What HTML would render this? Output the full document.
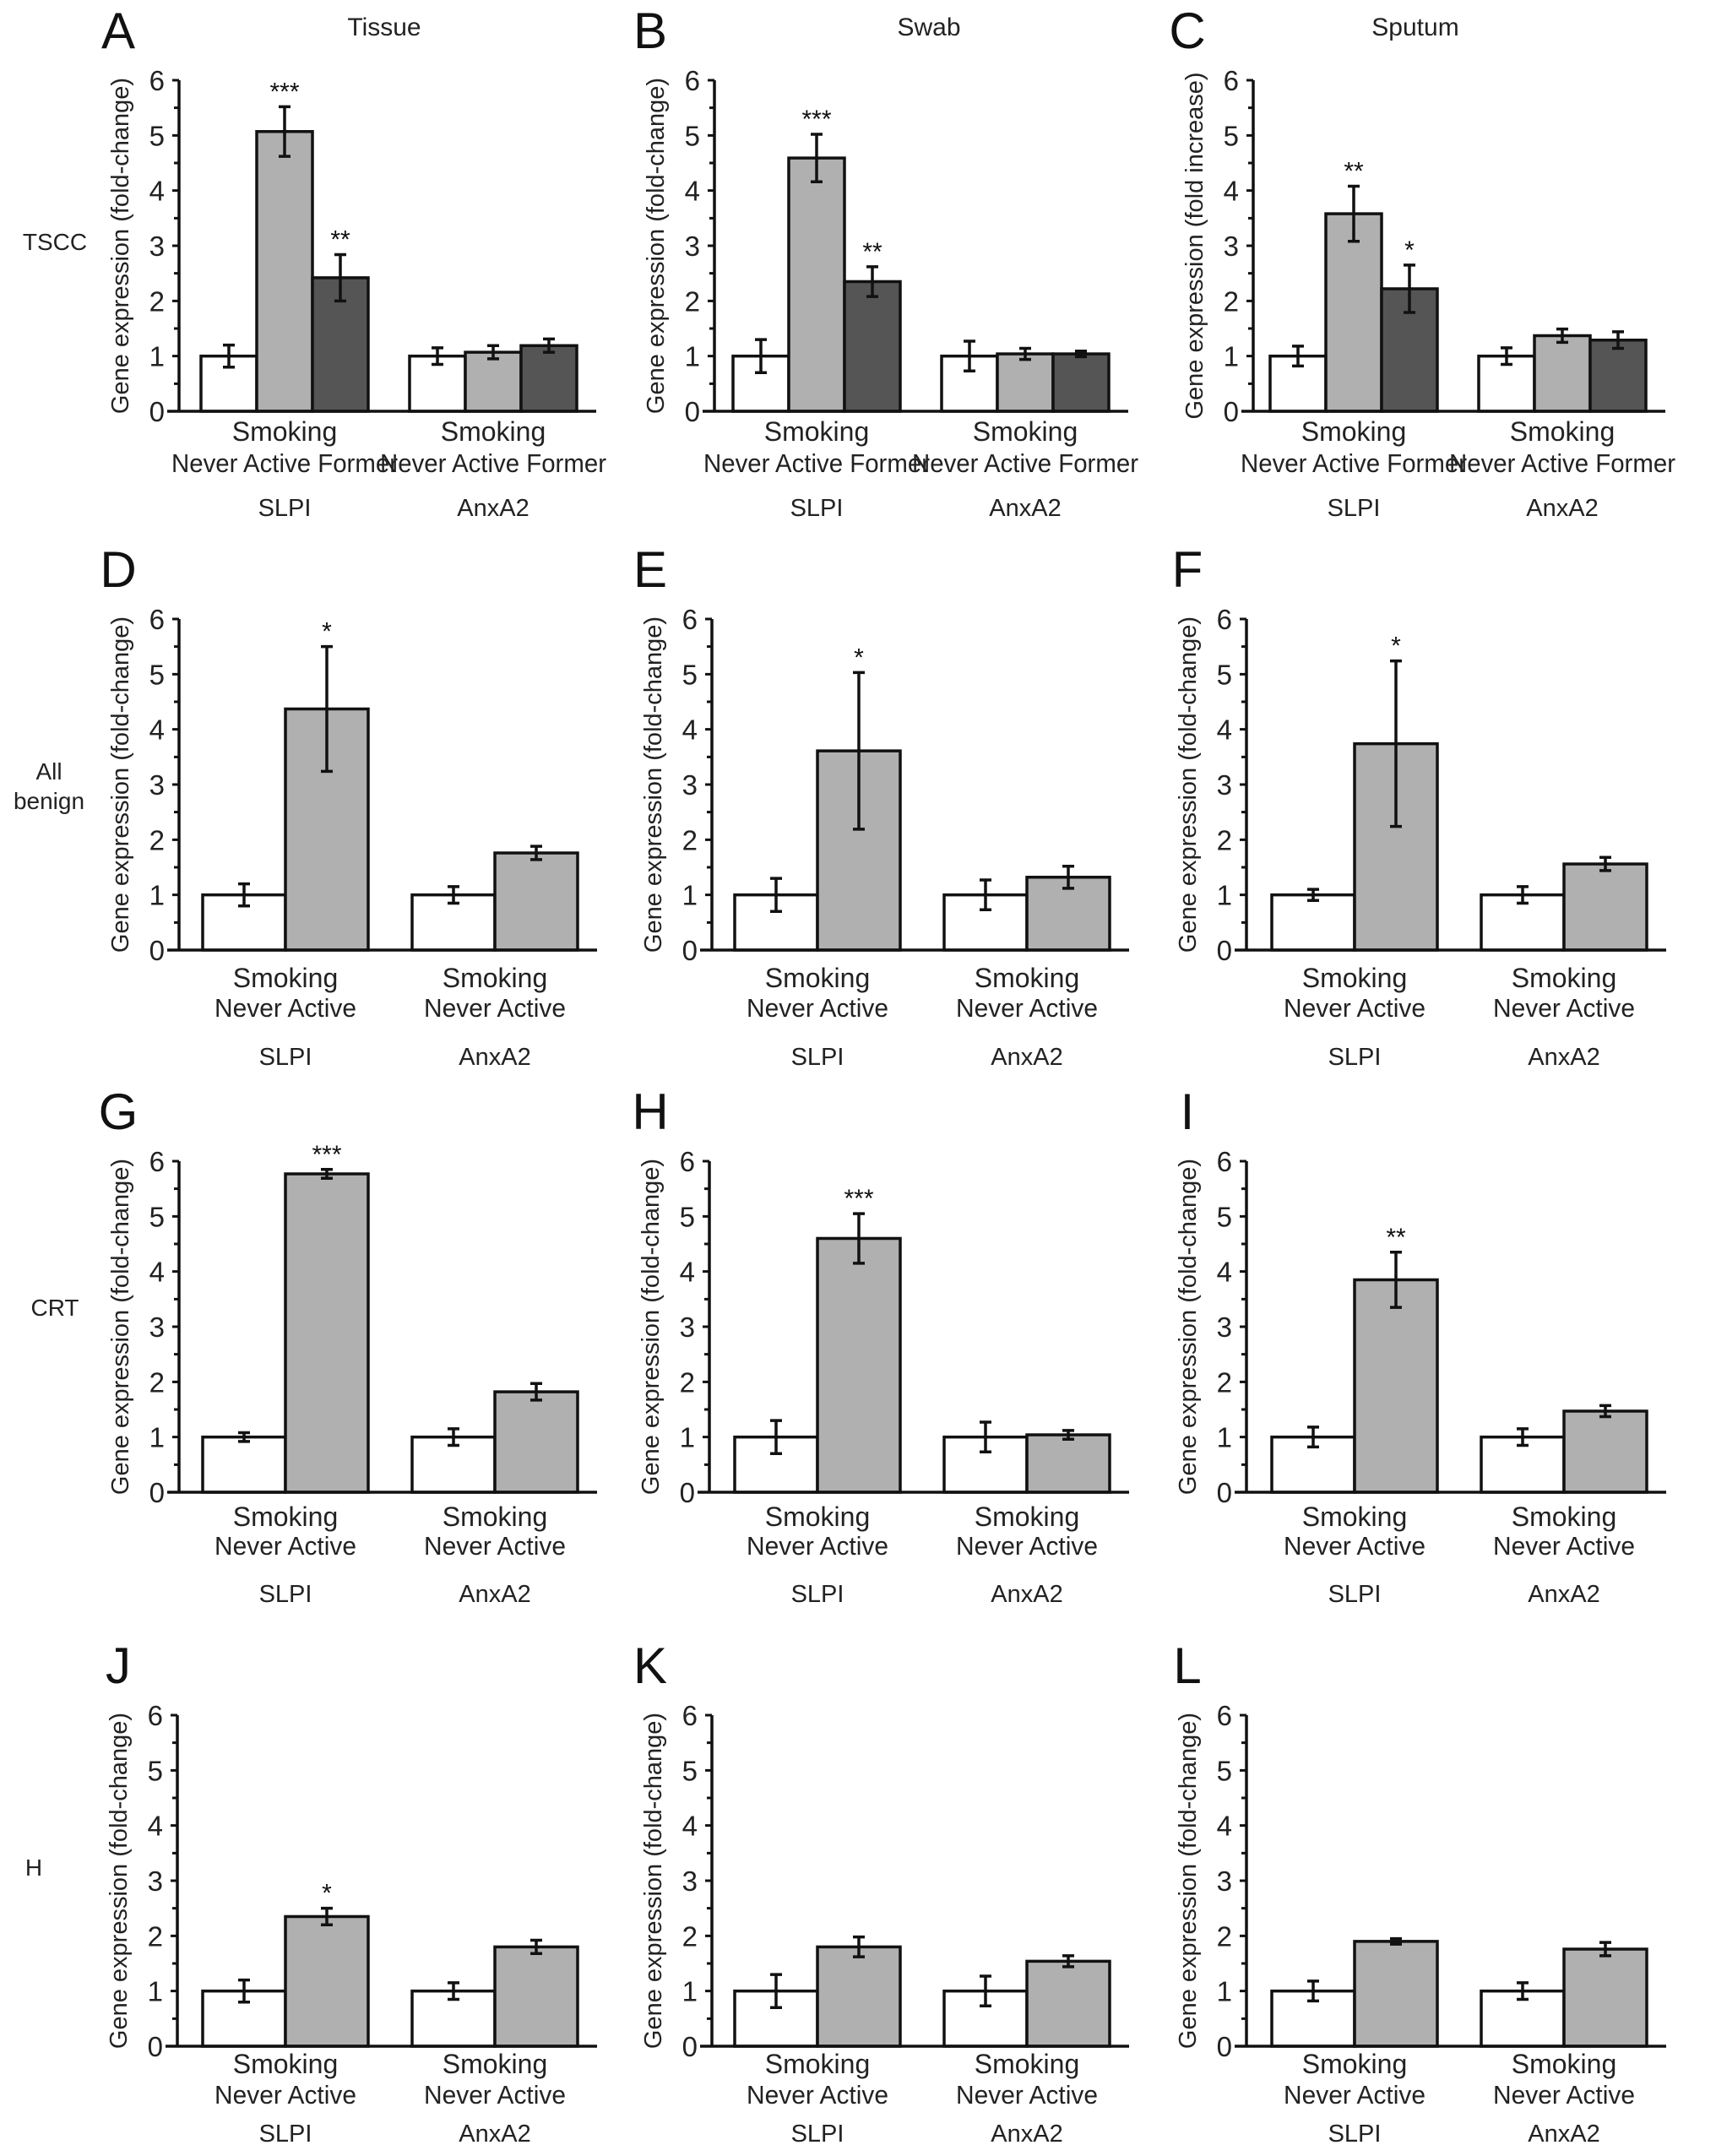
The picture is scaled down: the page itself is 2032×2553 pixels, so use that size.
<!DOCTYPE html>
<html><head><meta charset="utf-8"><style>
html,body{margin:0;padding:0;background:#fff;}
svg{display:block;font-family:"Liberation Sans",Arial,sans-serif;}
</style></head><body>
<svg id="fig" width="2032" height="2553" viewBox="0 0 2032 2553" xmlns="http://www.w3.org/2000/svg">
<rect x="0" y="0" width="2032" height="2553" fill="#fff"/>
<text x="455" y="42" font-size="30" text-anchor="middle" fill="#222">Tissue</text>
<text x="1100" y="42" font-size="30" text-anchor="middle" fill="#222">Swab</text>
<text x="1676" y="42" font-size="30" text-anchor="middle" fill="#222">Sputum</text>
<text x="65" y="296" font-size="28" text-anchor="middle" fill="#222">TSCC</text>
<text x="58" y="923" font-size="28" text-anchor="middle" fill="#222">All</text>
<text x="58" y="958" font-size="28" text-anchor="middle" fill="#222">benign</text>
<text x="65" y="1558" font-size="28" text-anchor="middle" fill="#222">CRT</text>
<text x="40" y="2221" font-size="28" text-anchor="middle" fill="#222">H</text>
</svg>
<script>
const ticks = ["0","1","2","3","4","5","6"];
const groups = ["SLPI","AnxA2"];
const cats3 = ["Never","Active","Former"];
const cats2 = ["Never","Active"];
const meansA = [1.0,5.07,2.42,1.0,1.07,1.19];
const errA   = [0.2,0.45,0.42,0.15,0.12,0.12];
const starsA = ["","***","**","","",""];
const meansB = [1.0,4.59,2.35,1.0,1.04,1.04];
const errB   = [0.3,0.43,0.27,0.27,0.1,0.05];
const starsB = ["","***","**","","",""];
const meansC = [1.0,3.58,2.22,1.0,1.37,1.29];
const errC   = [0.18,0.5,0.43,0.15,0.12,0.15];
const starsC = ["","**","*","","",""];
const meansD = [1.0,4.37,1.0,1.76];
const errD   = [0.2,1.13,0.15,0.12];
const starsD = ["","*","",""];
const meansE = [1.0,3.61,1.0,1.32];
const errE   = [0.3,1.42,0.27,0.2];
const starsE = ["","*","",""];
const meansF = [1.0,3.74,1.0,1.56];
const errF   = [0.1,1.5,0.15,0.12];
const starsF = ["","*","",""];
const meansG = [1.0,5.77,1.0,1.82];
const errG   = [0.08,0.08,0.15,0.15];
const starsG = ["","***","",""];
const meansH = [1.0,4.6,1.0,1.04];
const errH   = [0.3,0.45,0.27,0.08];
const starsH = ["","***","",""];
const meansI = [1.0,3.85,1.0,1.47];
const errI   = [0.18,0.5,0.15,0.1];
const starsI = ["","**","",""];
const meansJ = [1.0,2.35,1.0,1.8];
const errJ   = [0.2,0.15,0.15,0.12];
const starsJ = ["","*","",""];
const meansK = [1.0,1.8,1.0,1.54];
const errK   = [0.3,0.18,0.27,0.1];
const starsK = ["","","",""];
const meansL = [1.0,1.9,1.0,1.76];
const errL   = [0.18,0.05,0.15,0.12];
const starsL = ["","","",""];

const svg = document.getElementById('fig');
const NS = 'http://www.w3.org/2000/svg';
function mk(tag, attrs, parent){
  const e = document.createElementNS(NS, tag);
  for (const k in attrs) e.setAttribute(k, attrs[k]);
  (parent||svg).appendChild(e);
  return e;
}
const colX = [210, 840, 1476];
const rowTop = [95, 733, 1375, 2031];
const H = 392;
// label baseline offsets below the zero line per row: [smoking, categories, group]
const labOff = [[35, 72, 124], [44, 79, 136], [40, 74, 130], [32, 68, 113]];
const fills3 = ["#ffffff","#b0b0b0","#555555"];
const fills2 = ["#ffffff","#b0b0b0"];

function panel(letter, col, row, means, errs, stars, nb, ylab, axOff){
  const bx = colX[col];
  const ax = bx + axOff;
  const top = rowTop[row], y0 = top + H;
  const lo = labOff[row];
  const y = v => y0 - v / 6 * H;
  const g = mk('g', {});
  
  
  const lt = mk('text', {x: bx - 70, y: top - 38, 'font-size': 60, 'text-anchor': 'middle', fill: '#111'}, g);
  lt.textContent = letter;
  
  
  const yl = mk('text', {x: 0, y: 0, 'font-size': 29, 'text-anchor': 'middle', fill: '#222',
    transform: 'translate(' + (ax - 60) + ',' + (top + H / 2) + ') rotate(-90)'}, g);
  yl.textContent = ylab;
  
  
  const bw = nb === 3 ? 66 : 98;
  const gStart = nb === 3 ? [28, 275] : [30, 278];
  const axEnd = bx + (nb === 3 ? 496 : 497);
  for (let gi = 0; gi < 2; gi++) {
    for (let b = 0; b < nb; b++) {
      const i = gi * nb + b;
      const x = bx + gStart[gi] + b * bw;
      const r = mk('rect', {x: x, y: y(means[i]), width: bw, height: y0 - y(means[i]),
        fill: (nb === 3 ? fills3 : fills2)[b], stroke: '#111', 'stroke-width': 3.5}, g);
      
      
      const cx = x + bw / 2;
      const eb = mk('path', {d: 'M' + cx + ' ' + y(means[i] - errs[i]) + 'V' + y(means[i] + errs[i]) +
        'M' + (cx - 7) + ' ' + y(means[i] + errs[i]) + 'H' + (cx + 7) +
        'M' + (cx - 7) + ' ' + y(means[i] - errs[i]) + 'H' + (cx + 7),
        stroke: '#111', 'stroke-width': 3.5, fill: 'none'}, g);
      
      
      if (stars[i]) {
        const st = mk('text', {x: cx, y: y(means[i] + errs[i]) - 8, 'font-size': 30, 'text-anchor': 'middle', fill: '#111'}, g);
        st.textContent = stars[i];
        
        
      }
    }
    const gc = bx + gStart[gi] + bw * nb / 2;
    const sm = mk('text', {x: gc, y: y0 + lo[0], 'font-size': 32, 'text-anchor': 'middle', fill: '#222'}, g);
    sm.textContent = 'Smoking';
    
    
    const cl = mk('text', {x: gc, y: y0 + lo[1], 'font-size': 31, 'text-anchor': 'middle', fill: '#222',
      textLength: nb === 3 ? 268 : 168, lengthAdjust: 'spacingAndGlyphs', 'xml:space': 'preserve'}, g);
    cl.textContent = nb === 3 ? cats3.join(' ') : cats2.join('  ');
    
    
    const gl = mk('text', {x: gc, y: y0 + lo[2], 'font-size': 29, 'text-anchor': 'middle', fill: '#222'}, g);
    gl.textContent = groups[gi];
    
    
  }
  const axes = mk('path', {d: 'M' + ax + ' ' + top + 'V' + y0 + 'M' + (ax - 14) + ' ' + y0 + 'H' + axEnd,
    stroke: '#111', 'stroke-width': 3.5, fill: 'none'}, g);
  
  
  for (let t = 0; t < ticks.length; t++) {
    const v = Number(ticks[t]);
    const tk = mk('path', {d: 'M' + (ax - 8) + ' ' + y(v) + 'H' + ax + (t < ticks.length - 1 ? 'M' + (ax - 6) + ' ' + y(v + 0.5) + 'H' + ax : ''),
      stroke: '#111', 'stroke-width': 3}, g);
    
    
    const tl = mk('text', {x: ax - 17, y: y(v) + 12, 'font-size': 33, 'text-anchor': 'end', fill: '#222'}, g);
    tl.textContent = ticks[t];
    
    
  }
}
const YL = 'Gene expression (fold-change)';
panel('A', 0, 0, meansA, errA, starsA, 3, YL, 2);
panel('B', 1, 0, meansB, errB, starsB, 3, YL, 6);
panel('C', 2, 0, meansC, errC, starsC, 3, 'Gene expression (fold increase)', 8);
panel('D', 0, 1, meansD, errD, starsD, 2, YL, 2);
panel('E', 1, 1, meansE, errE, starsE, 2, YL, 3);
panel('F', 2, 1, meansF, errF, starsF, 2, YL, 0);
panel('G', 0, 2, meansG, errG, starsG, 2, YL, 2);
panel('H', 1, 2, meansH, errH, starsH, 2, YL, 0);
panel('I', 2, 2, meansI, errI, starsI, 2, YL, 0);
panel('J', 0, 3, meansJ, errJ, starsJ, 2, YL, 0);
panel('K', 1, 3, meansK, errK, starsK, 2, YL, 3);
panel('L', 2, 3, meansL, errL, starsL, 2, YL, 0);
</script>
</body></html>
